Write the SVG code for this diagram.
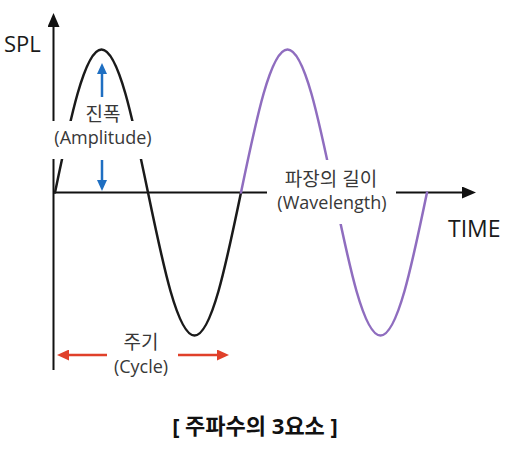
<svg xmlns="http://www.w3.org/2000/svg" width="525" height="449" viewBox="0 0 525 449">
<style>
.ax{fill:none;stroke:#111;stroke-width:2}
.wave{fill:none;stroke-width:2.5;stroke-linecap:round}
.bk{stroke:#1a1a1a}
.pu{stroke:#8f6dbf}
.bg{fill:#fff;stroke:none}
.lbl{font-family:"Open Sans","Noto Sans CJK KR",sans-serif;font-size:18px;fill:#383838;text-anchor:middle}
.ko{font-size:19px}
.axl{font-family:"Open Sans","Noto Sans CJK KR",sans-serif;font-size:22px;fill:#1a1a1a}
.ttl{font-family:"Open Sans","Noto Sans CJK KR",sans-serif;font-size:22px;font-weight:bold;fill:#111;text-anchor:middle}
.blue{fill:none;stroke:#1f6fc2;stroke-width:2.5}
.red{fill:none;stroke:#e0402a;stroke-width:2.5}
</style>
<defs>
<marker id="arrK" markerUnits="userSpaceOnUse" viewBox="0 0 14 12" markerWidth="14" markerHeight="12" refX="10" refY="6" orient="auto"><path d="M0,0 L14,6 L0,12 z" fill="#111"/></marker>
<marker id="arrB" markerUnits="userSpaceOnUse" viewBox="0 0 11 10" markerWidth="11" markerHeight="10" refX="7" refY="5" orient="auto"><path d="M0,0 L11,5 L0,10 z" fill="#1f6fc2"/></marker>
<marker id="arrR" markerUnits="userSpaceOnUse" viewBox="0 0 12 11" markerWidth="12" markerHeight="11" refX="8" refY="5.5" orient="auto"><path d="M0,0 L12,5.5 L0,11 z" fill="#e0402a"/></marker>
</defs>
<rect width="525" height="449" fill="#fff"/>
<g id="axes">
<path id="y-axis" class="ax" d="M53.5,370 L53.5,17" marker-end="url(#arrK)"/>
<path id="x-axis" class="ax" d="M53.5,192.5 L472,192.5" marker-end="url(#arrK)"/>
</g>
<g id="waves">
<path id="wave-black" class="wave bk" d="M55,192.5 c15.16,-73.26 29.67,-143 46.5,-143 c16.83,0 31.34,69.74 46.5,143 c15.16,73.26 29.67,143 46.5,143 c16.83,0 31.34,-69.74 46.5,-143"/>
<path id="wave-purple" class="wave pu" d="M241,192.5 c15.16,-73.26 29.67,-143 46.5,-143 c16.83,0 31.34,69.74 46.5,143 c15.16,73.26 29.67,143 46.5,143 c16.83,0 31.34,-69.74 46.5,-143"/>
</g>
<g id="axis-label-spl"><text class="axl" x="4" y="52">SPL</text></g>
<g id="axis-label-time"><text class="axl" x="448" y="237" style="font-size:23px">TIME</text></g>
<g id="label-amplitude">
<rect class="bg" x="46" y="121" width="112" height="38"/>
<text class="lbl ko" x="103" y="121">진폭</text>
<text class="lbl" x="103" y="144">(Amplitude)</text>
</g>
<g id="label-wavelength">
<rect class="bg" x="267" y="160" width="129" height="64"/>
<text class="lbl ko" x="331" y="186">파장의 길이</text>
<text class="lbl" x="332" y="209">(Wavelength)</text>
</g>
<g id="label-cycle">
<text class="lbl ko" x="141" y="349">주기</text>
<text class="lbl" x="141" y="373">(Cycle)</text>
</g>
<g id="connectors">
<path class="blue" d="M102,97 L102,67" marker-end="url(#arrB)"/>
<path class="blue" d="M102,160 L102,187" marker-end="url(#arrB)"/>
<path class="red" d="M107,355 L61,355" marker-end="url(#arrR)"/>
<path class="red" d="M178,355 L225,355" marker-end="url(#arrR)"/>
</g>
<g id="title"><text class="ttl" x="255" y="434">[ 주파수의 3요소 ]</text></g>
</svg>
